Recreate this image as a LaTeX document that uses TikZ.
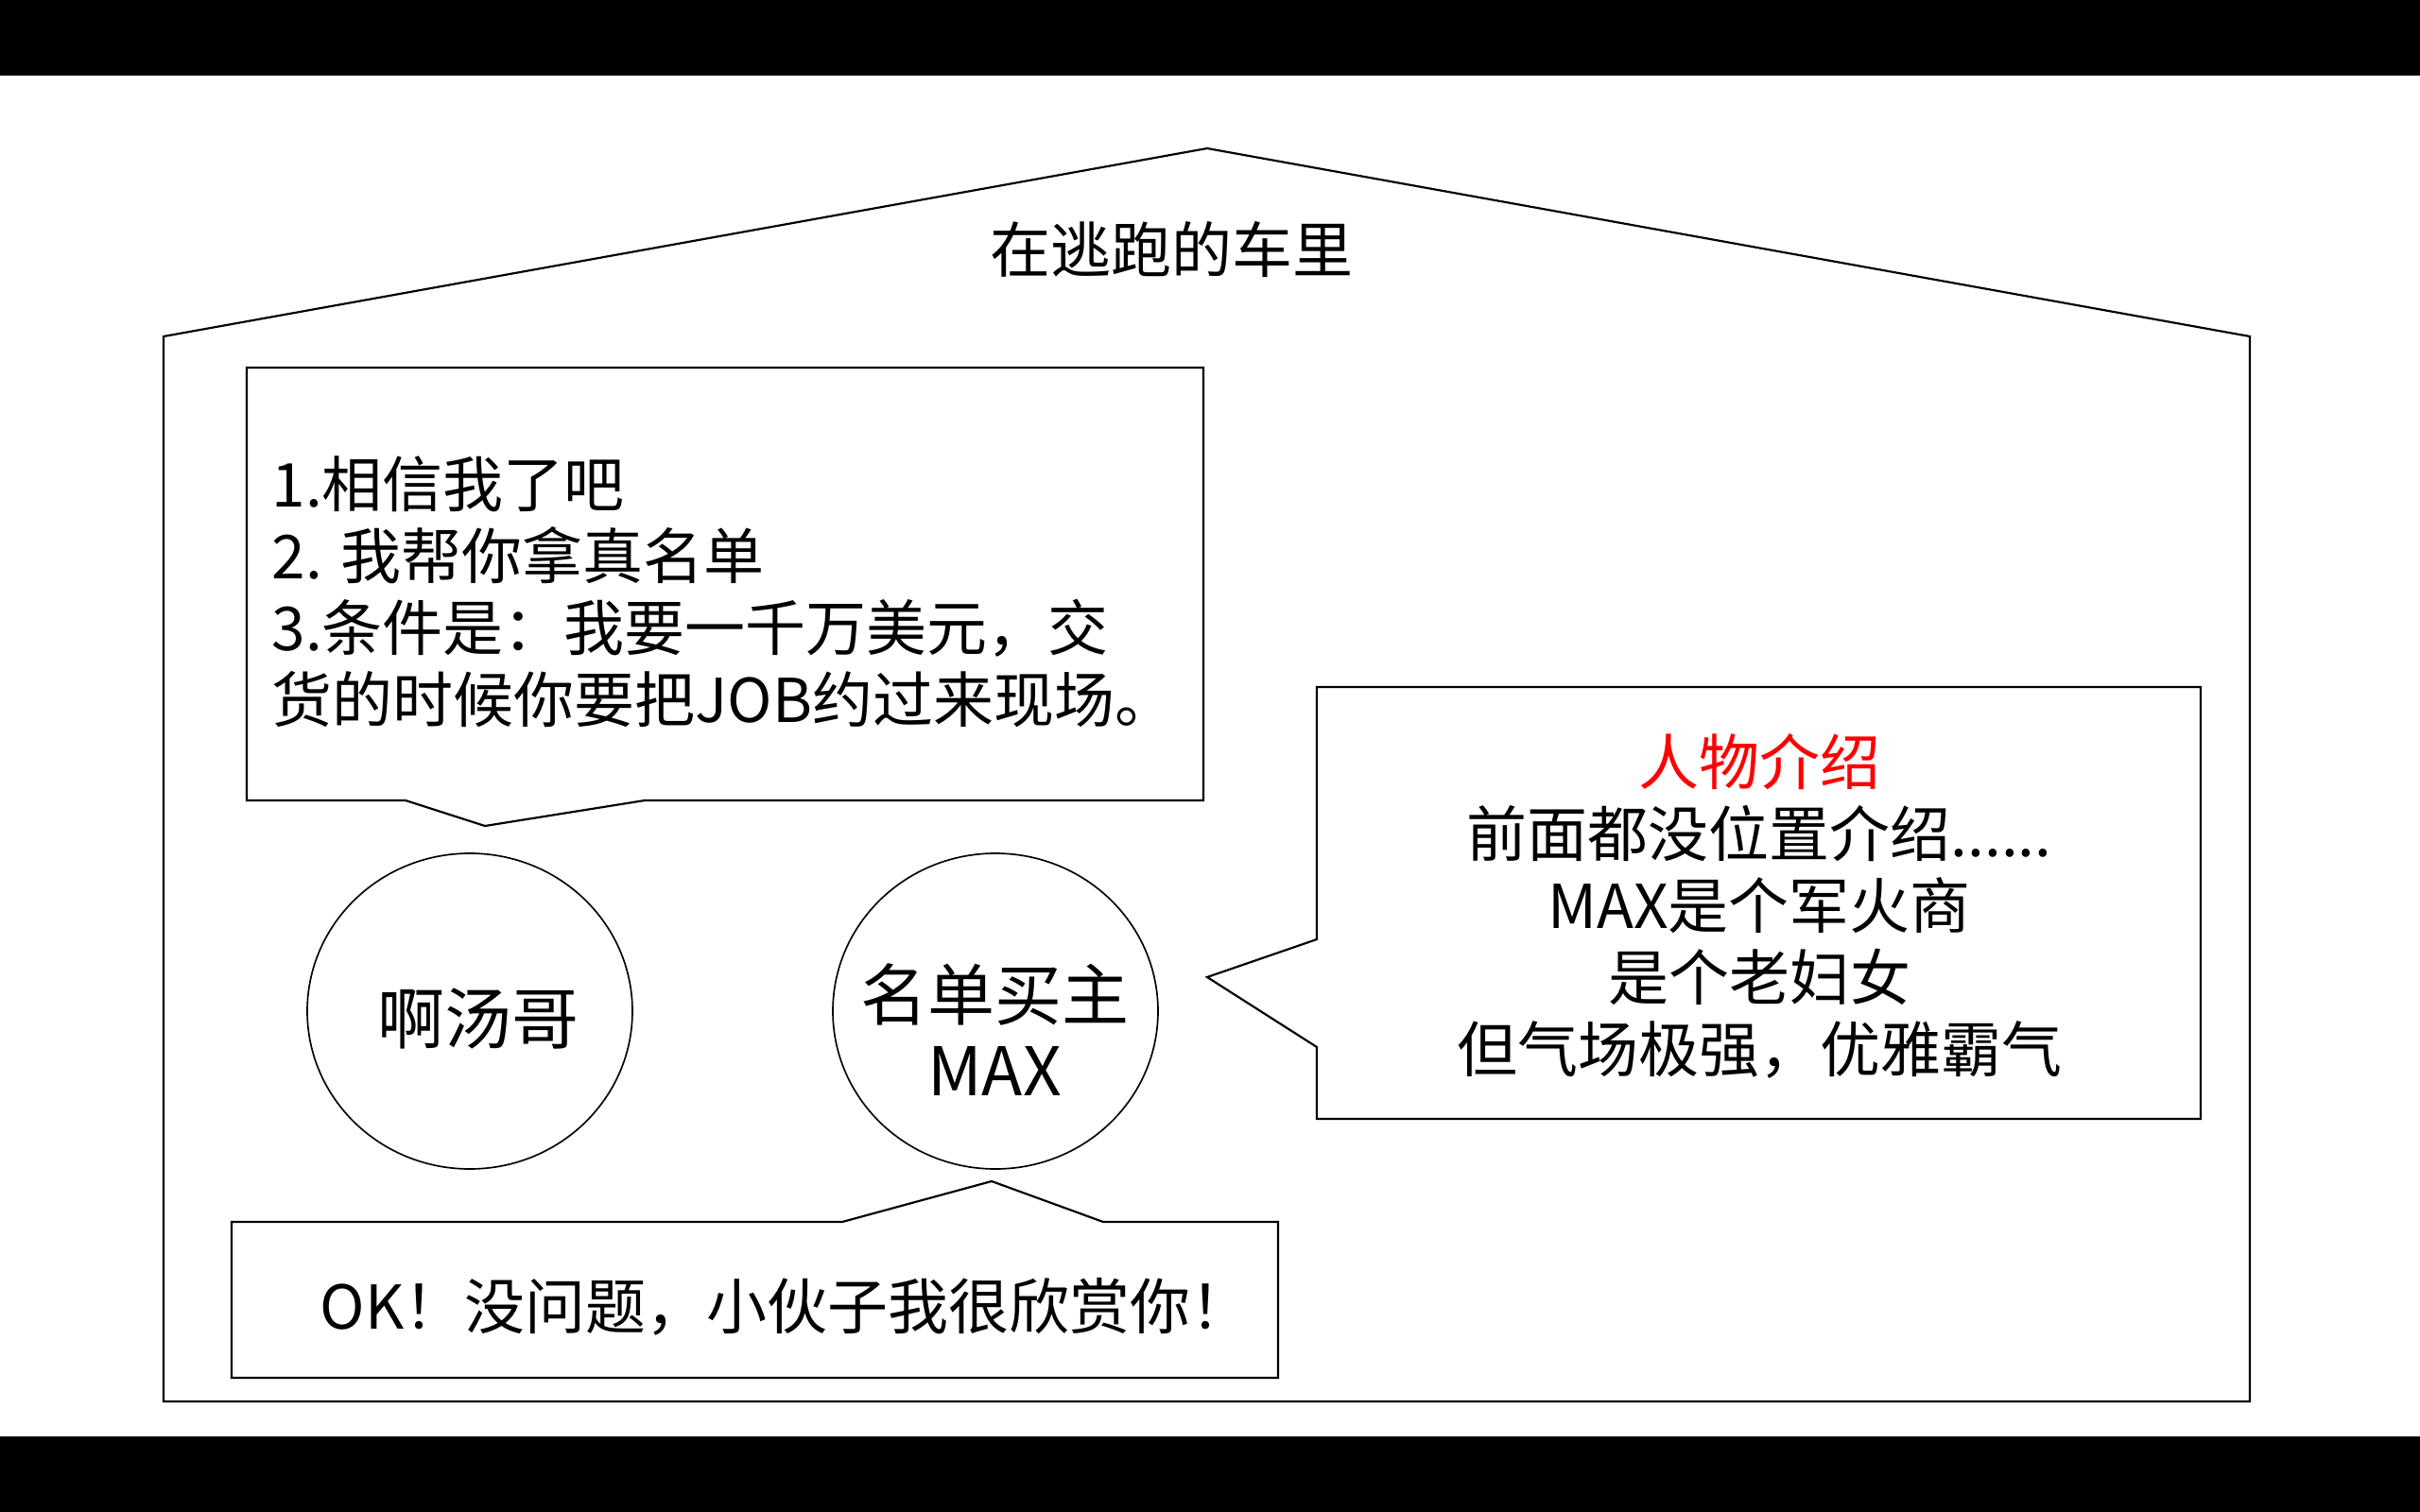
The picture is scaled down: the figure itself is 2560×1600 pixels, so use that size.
\documentclass[tikz,border=0pt]{standalone}
\usepackage{fontspec}
\setmainfont{Noto Sans CJK SC}
\usetikzlibrary{shapes.geometric}
\begin{document}
\begin{tikzpicture}[x=0.3pt,y=-0.3pt,
  outline/.style={draw=black,line width=0.65pt,line join=miter},
  person/.style={draw=black,line width=0.5pt,ellipse,minimum width=103.2pt,minimum height=100.2pt,inner sep=0pt},
  bodytext/.style={inner sep=0pt,font=\fontsize{19.2pt}{22.8pt}\selectfont},
  bigtext/.style={inner sep=0pt,font=\fontsize{21.3pt}{24pt}\selectfont,align=center}]
\fill[black] (0,0) rectangle (2560,1600);
\fill[white] (0,80) rectangle (2560,1520);
\useasboundingbox (0,0) rectangle (2560,1600);
% house outline
\draw[outline] (173,1483) -- (173,356) -- (1277,157) -- (2380,356) -- (2380,1483) -- cycle;
\node[bodytext] (title) at (1239,264) {在逃跑的车里};
% speech bubble of 啊汤哥
\draw[outline] (261,389) -- (1273,389) -- (1273,847) -- (682,847) -- (513,874) -- (429,847) -- (261,847) -- cycle;
\node[bodytext,anchor=west,align=left] (say1) at (287,626)
  {1.相信我了吧\\2. 我帮你拿真名单\\3.条件是：我要一千万美元，交\\货的时候你要把JOB约过来现场。};
% characters
\node[person] (tang) at (497,1070) {};
\node[bigtext] (tangname) at (506,1078) {啊汤哥};
\node[person] (max) at (1053,1070) {};
\node[bigtext] (maxname) at (1052,1090) {名单买主\\MAX};
% introduction bubble
\draw[outline] (1393,727) -- (2328,727) -- (2328,1184) -- (1393,1184) -- (1393,1108) -- (1277,1034) -- (1393,994) -- cycle;
\node[bodytext,align=center] (intro) at (1861,959)
  {\textcolor{red}{人物介绍}\\前面都没位置介绍......\\MAX是个军火商\\是个老妇女\\但气场极强，优雅霸气};
% MAX reply bubble
\draw[outline] (245,1293) -- (891,1293) -- (1049,1250) -- (1167,1293) -- (1352,1293) -- (1352,1458) -- (245,1458) -- cycle;
\node[bodytext,anchor=west] (say2) at (338,1383) {OK！没问题，小伙子我很欣赏你！};
\end{tikzpicture}
\end{document}
